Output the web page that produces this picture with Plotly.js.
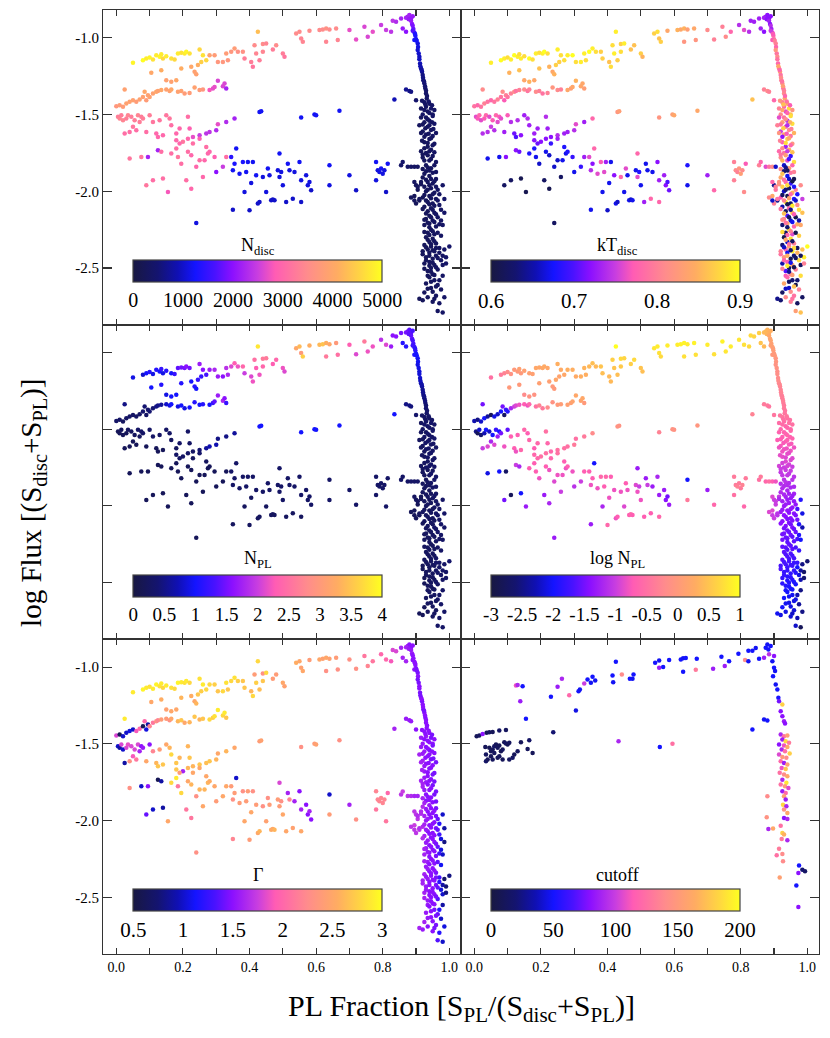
<!DOCTYPE html>
<html><head><meta charset="utf-8">
<script src="https://cdn.plot.ly/plotly-3.0.1.min.js"></script>
<style>html,body{margin:0;padding:0;background:#fff}#chart{width:830px;height:1038px}</style>
</head><body><div id="chart"></div>
<script>
// Row format: [PL fraction, log flux, N_disc, kT_disc, N_PL, log N_PL, Gamma]
const upperYellow = [
[.05,-1.163,4900,.89,.9,-.5,2.9],[.08,-1.146,5000,.90,.8,-.4,2.95],[.09,-1.135,4800,.89,1.0,-.3,2.9],
[.10,-1.128,4900,.88,1.1,-.2,2.85],[.11,-1.141,4700,.89,.9,-.1,2.9],[.12,-1.113,4800,.90,1.1,0,2.95],
[.13,-1.124,4900,.89,1.0,0,2.85],[.135,-1.107,4800,.88,1.2,.1,2.9],[.14,-1.135,4600,.89,.9,0,2.8],
[.15,-1.12,4800,.88,1.1,.1,2.9],[.165,-1.135,4700,.90,1.0,.1,2.85],[.175,-1.141,4600,.88,1.2,.1,2.8],
[.185,-1.102,4800,.89,1.4,.2,2.95],[.195,-1.098,4700,.88,1.5,.2,2.9],[.205,-1.102,4800,.89,1.5,.2,2.85],
[.21,-1.091,4900,.90,1.6,.25,2.9],[.22,-1.102,4700,.88,1.5,.2,2.8],[.25,-1.076,4600,.89,1.7,.3,2.85],
[.26,-1.113,4700,.88,1.6,.25,2.9],[.255,-1.157,4500,.87,1.2,.15,2.75],[.27,-1.146,4600,.88,1.3,.2,2.8]
];
const upperOrange = [
[.105,-1.228,4000,.85,1.0,0,2.5],[.135,-1.211,4100,.86,1.1,0,2.55],[.15,-1.276,3900,.84,.9,-.2,2.45],
[.165,-1.287,3900,.85,1.0,-.1,2.5],[.18,-1.276,4000,.84,1.0,-.1,2.5],[.195,-1.2,4100,.86,1.1,.1,2.6],
[.225,-1.189,4000,.85,1.0,.1,2.55],[.235,-1.222,3900,.84,1.1,0,2.5],[.24,-1.237,3900,.85,1.0,0,2.6],
[.245,-1.178,4100,.87,1.2,.2,2.7],[.28,-1.113,3900,.89,1.7,.3,2.8],[.295,-1.113,3800,.90,1.8,.3,2.75],
[.305,-1.157,3700,.88,1.7,.25,2.7],[.32,-1.157,3700,.89,1.6,.3,2.8],[.33,-1.102,3800,.89,1.9,.35,2.85],
[.335,-1.146,3700,.88,1.8,.3,2.7],[.345,-1.091,3700,.90,2.1,.4,2.8],[.355,-1.07,3800,.89,2.3,.45,2.85],
[.365,-1.091,3600,.88,2.2,.4,2.75],[.38,-1.091,3600,.87,2.4,.5,2.7],[.415,-1.048,3500,.88,2.5,.6,2.4],
[.44,-1.041,3500,.87,2.6,.7,2.3],[.48,-1.048,3500,.86,2.4,.7,2.4],[.425,-.961,4300,.89,3.8,1.0,2.8]
];
const upperSalmon = [
[.385,-1.135,3300,.87,2.0,.45,2.7],[.405,-1.157,3300,.86,2.1,.4,2.6],[.41,-1.189,3200,.88,2.2,.4,2.8],
[.42,-1.102,3400,.89,2.3,.5,2.75],[.43,-1.146,3300,.87,2.2,.45,2.65],[.44,-1.091,3400,.88,2.4,.55,2.7],
[.45,-1.037,3400,.89,2.6,.65,2.8],[.47,-1.076,3300,.86,2.3,.6,2.4],[.50,-1.102,3300,.87,2.2,.5,2.5],
[.505,-1.124,3200,.85,2.1,.45,2.45],[.54,-.972,3500,.87,3.2,.8,2.55],[.55,-.961,3500,.88,3.4,.85,2.5],
[.555,-1.004,3400,.86,3.0,.75,2.45],[.56,-1.026,3400,.87,3.6,.7,2.5],[.58,-.954,3500,.84,3.3,.85,2.4],
[.61,-.95,3500,.85,3.4,.85,2.5],[.62,-.946,3500,.84,3.5,.9,2.45],[.63,-.939,3600,.85,3.3,.9,2.5],
[.64,-.946,3500,.83,3.2,.85,2.45],[.63,-1.026,3400,.82,2.6,.75,2.3],[.66,-.939,3500,.84,3.0,.9,2.4],
[.665,-1.015,3400,.82,2.5,.75,2.3]
];
const nearPeak = [
[.70,-.95,2700,.81,2.3,.85,2.3],[.72,-1.011,2700,.80,2.1,.75,2.3],[.745,-.928,2600,.80,2.6,.9,2.1],
[.755,-.993,2600,.81,2.2,.8,2.2],[.77,-.961,2700,.78,2.2,.85,2.1],[.795,-.917,2500,.74,1.9,.8,2.0],
[.81,-.95,2500,.76,2.1,.75,2.0],[.825,-.961,2400,.74,1.7,.7,1.9],[.83,-.889,2400,.73,1.6,.7,1.8],
[.84,-.896,2300,.73,1.6,.65,1.8],[.855,-.874,2200,.73,1.5,.6,1.6],[.86,-.939,2100,.73,1.1,.5,1.6],
[.87,-.961,2000,.72,1.1,.4,1.6],[.875,-.863,2200,.73,1.5,.4,1.6],[.88,-.852,2200,.72,1.4,.35,1.5],
[.885,-.874,2100,.72,1.4,.3,1.5],[.89,-.859,2100,.72,1.3,.3,1.5],[.87,-.87,2200,.73,1.5,.4,1.6],
[.878,-.88,2100,.72,1.4,.35,1.55]
];
const descending = [
[.885,-.889,2100,.73,1.4,.2,1.55],[.888,-.911,2000,.72,1.4,.15,1.55],[.89,-.922,1900,.74,1.3,.15,1.5],
[.892,-.943,1800,.73,1.3,.1,1.5],[.895,-.965,1500,.76,1.2,.1,1.5],[.89,-.954,1700,.75,1.25,.1,1.5],
[.898,-.987,1300,.78,1.1,.05,1.5],[.90,-1.009,1200,.79,1.0,0,1.45],[.895,-1.015,1250,.77,1.05,0,1.5],
[.905,-1.037,1100,.80,.95,-.05,1.45],[.908,-1.102,1000,.79,.9,-.1,1.45],[.91,-1.124,950,.81,.85,-.15,1.5],
[.912,-1.167,900,.78,.8,-.2,1.45],[.915,-1.2,800,.80,.7,-.25,1.5],[.918,-1.222,700,.83,.6,-.3,1.45],
[.92,-1.243,600,.79,.55,-.3,1.5],[.922,-1.276,550,.80,.5,-.35,1.45],[.925,-1.298,500,.82,.45,-.35,1.5],
[.928,-1.33,450,.78,.4,-.4,1.45],[.93,-1.363,400,.81,.4,-.4,1.5],[.932,-1.396,380,.84,.35,-.45,1.5],
[.897,-.975,1300,.77,1.15,.05,1.5],[.902,-1.02,1200,.80,1.0,0,1.45],[.906,-1.06,1100,.78,.95,-.05,1.5],
[.905,-1.08,1050,.82,.9,-.1,1.45],[.91,-1.14,950,.79,.85,-.15,1.5],[.913,-1.185,850,.84,.75,-.2,1.45],
[.917,-1.21,750,.78,.65,-.25,1.5],[.921,-1.26,600,.81,.55,-.3,1.5],[.924,-1.285,520,.79,.5,-.35,1.45],
[.927,-1.315,480,.83,.45,-.35,1.5],[.93,-1.345,420,.80,.4,-.4,1.5],[.933,-1.38,400,.78,.35,-.45,1.5]
];
const bandUpper = [
[.925,-1.42,400,.80,.35,-.45,1.5],[.94,-1.43,380,.84,.3,-.5,1.5],[.93,-1.45,350,.78,.3,-.55,1.55],
[.945,-1.46,420,.88,.35,-.5,1.45],[.935,-1.48,300,.76,.3,-.6,1.5],[.92,-1.50,380,.81,.3,-.6,1.55],
[.95,-1.50,350,.86,.3,-.55,1.5],[.93,-1.52,330,.79,.25,-.65,1.5],[.94,-1.54,360,.74,.3,-.6,1.45],
[.925,-1.55,300,.83,.3,-.7,1.55],[.955,-1.56,400,.88,.35,-.65,1.5],[.935,-1.58,320,.78,.3,-.7,1.5],
[.945,-1.60,350,.81,.3,-.75,1.45],[.92,-1.61,280,.75,.25,-.75,1.6],[.93,-1.63,330,.84,.3,-.8,1.5],
[.95,-1.64,360,.79,.3,-.8,1.5],[.94,-1.66,300,.87,.3,-.85,1.5],[.925,-1.68,320,.77,.25,-.85,1.55],
[.955,-1.69,350,.82,.3,-.9,1.45],[.935,-1.71,300,.73,.25,-.9,1.5],[.945,-1.73,340,.85,.3,-.95,1.5],
[.93,-1.75,310,.79,.3,-1.0,1.55],[.95,-1.77,330,.69,.25,-1.0,1.45],[.92,-1.78,280,.81,.25,-1.05,1.6],
[.94,-1.80,320,.76,.3,-1.05,1.5],[.96,-1.81,350,.88,.3,-1.1,1.45],[.93,-1.83,300,.66,.25,-1.1,1.5],
[.945,-1.85,320,.83,.3,-1.15,1.5],[.915,-1.74,280,.78,.25,-.95,1.6],[.96,-1.62,360,.85,.3,-.8,1.45],
[.91,-1.57,300,.80,.25,-.7,1.6],[.955,-1.47,380,.82,.3,-.5,1.5],
[.918,-1.41,380,.82,.3,-.45,1.5],[.938,-1.415,400,.79,.3,-.45,1.5],[.928,-1.435,360,.86,.3,-.5,1.5],
[.948,-1.44,390,.77,.3,-.5,1.45],[.915,-1.46,330,.80,.25,-.55,1.55],[.925,-1.47,350,.84,.3,-.55,1.5],
[.94,-1.49,360,.78,.3,-.6,1.5],[.95,-1.51,380,.88,.3,-.6,1.45],[.915,-1.52,300,.76,.25,-.65,1.55],
[.935,-1.53,330,.81,.3,-.65,1.5],[.948,-1.55,350,.85,.3,-.65,1.5],[.92,-1.565,300,.79,.25,-.7,1.55],
[.94,-1.57,340,.74,.3,-.7,1.5],[.928,-1.59,320,.87,.3,-.75,1.5],[.952,-1.595,360,.80,.3,-.75,1.45],
[.915,-1.62,290,.82,.25,-.8,1.6],[.938,-1.625,320,.77,.3,-.8,1.5],[.925,-1.645,310,.72,.25,-.8,1.55],
[.945,-1.655,340,.84,.3,-.85,1.5],[.918,-1.67,290,.80,.25,-.85,1.6],[.935,-1.685,310,.88,.3,-.9,1.5],
[.95,-1.70,350,.78,.3,-.9,1.45],[.925,-1.72,300,.81,.25,-.95,1.55],[.94,-1.74,320,.75,.3,-.95,1.5],
[.955,-1.745,360,.86,.3,-1.0,1.45],[.92,-1.76,280,.79,.25,-1.0,1.6],[.935,-1.765,300,.83,.25,-1.0,1.5],
[.945,-1.79,320,.70,.3,-1.05,1.5],[.925,-1.80,290,.85,.25,-1.05,1.55],[.955,-1.83,340,.78,.3,-1.1,1.45],
[.935,-1.845,300,.64,.25,-1.1,1.5],[.92,-1.855,280,.81,.25,-1.15,1.6]
];
const bandMiddle = [
[.93,-1.87,300,.63,.25,-1.15,1.5],[.95,-1.88,330,.79,.3,-1.2,1.5],[.94,-1.90,310,.67,.25,-1.2,1.55],
[.92,-1.91,280,.84,.25,-1.15,1.65],[.96,-1.92,340,.61,.3,-1.25,1.45],[.935,-1.94,300,.78,.25,-1.25,1.5],
[.95,-1.95,320,.69,.3,-1.3,1.5],[.925,-1.97,290,.87,.25,-1.25,1.6],[.945,-1.98,310,.62,.25,-1.3,1.5],
[.965,-1.99,350,.80,.3,-1.35,1.4],[.93,-2.00,290,.66,.25,-1.3,1.55],[.955,-2.01,320,.85,.3,-1.35,1.5],
[.94,-2.03,300,.61,.25,-1.35,1.5],[.92,-2.04,270,.77,.25,-1.3,1.65],[.96,-2.05,330,.68,.3,-1.4,1.45],
[.935,-2.07,290,.89,.25,-1.4,1.5],[.95,-2.08,310,.63,.25,-1.4,1.5],[.97,-2.09,360,.81,.3,-1.5,1.3],
[.925,-2.10,280,.65,.25,-1.4,1.6],[.945,-2.11,300,.78,.25,-1.45,1.5],[.935,-2.13,290,.62,.25,-1.45,1.55],
[.955,-2.14,320,.86,.3,-1.45,1.5],[.94,-2.16,300,.70,.25,-1.5,1.5],[.965,-2.17,340,.61,.3,-1.55,1.4],
[.93,-2.18,280,.80,.25,-1.5,1.55],[.95,-2.19,310,.66,.25,-1.5,1.5],[.94,-2.21,300,.84,.25,-1.55,1.5],
[.925,-2.22,270,.63,.25,-1.5,1.6],[.96,-2.23,330,.78,.3,-1.6,1.45],[.945,-2.25,300,.89,.25,-1.55,1.5],
[.935,-2.27,290,.62,.25,-1.6,1.55],[.955,-2.28,320,.76,.25,-1.6,1.5],[.975,-2.29,360,.87,.3,-1.8,1.1],
[.98,-1.96,380,.81,.3,-1.9,1.0],[.985,-2.05,400,.75,.3,-2.1,.9],[.975,-2.12,370,.88,.3,-1.9,1.05],
[.905,-1.99,260,.79,.2,-1.0,1.7],[.895,-2.03,250,.84,.2,-.9,1.75],[.91,-2.06,260,.64,.2,-1.1,1.7],
[.90,-2.08,250,.80,.2,-1.0,1.7],[.985,-2.14,400,.86,.3,-2.3,.8],[.97,-2.02,350,.68,.3,-1.7,1.2],
[.915,-1.94,270,.82,.2,-1.05,1.65],
[.94,-1.865,310,.62,.25,-1.15,1.5],[.96,-1.875,340,.80,.3,-1.2,1.45],[.925,-1.885,290,.86,.25,-1.15,1.6],
[.945,-1.92,310,.66,.25,-1.25,1.5],[.93,-1.925,300,.79,.25,-1.2,1.55],[.955,-1.935,330,.61,.3,-1.3,1.5],
[.915,-1.955,270,.82,.2,-1.2,1.65],[.94,-1.96,300,.88,.25,-1.3,1.5],[.96,-1.97,340,.68,.3,-1.35,1.45],
[.935,-1.99,290,.63,.25,-1.3,1.55],[.95,-2.02,310,.78,.25,-1.35,1.5],[.925,-2.025,280,.62,.25,-1.3,1.6],
[.945,-2.045,300,.84,.25,-1.4,1.5],[.965,-2.06,350,.66,.3,-1.45,1.4],[.93,-2.06,290,.80,.25,-1.4,1.55],
[.94,-2.085,300,.61,.25,-1.45,1.5],[.955,-2.095,320,.89,.25,-1.45,1.5],[.92,-2.115,270,.79,.2,-1.4,1.65],
[.95,-2.12,310,.64,.25,-1.5,1.5],[.93,-2.145,290,.86,.25,-1.5,1.55],[.96,-2.15,330,.77,.3,-1.55,1.45],
[.945,-2.17,300,.62,.25,-1.55,1.5],[.925,-2.185,280,.81,.25,-1.5,1.6],[.955,-2.2,320,.67,.25,-1.6,1.5],
[.935,-2.205,290,.79,.25,-1.55,1.55],[.97,-2.215,350,.85,.3,-1.7,1.3],[.94,-2.235,300,.63,.25,-1.6,1.5],
[.95,-2.26,310,.80,.25,-1.6,1.5],[.925,-2.265,280,.88,.25,-1.6,1.6],[.965,-2.27,340,.61,.3,-1.7,1.4],
[.94,-2.285,300,.78,.25,-1.65,1.5],[.975,-2.19,360,.65,.3,-1.9,1.05],[.98,-2.22,370,.84,.3,-2.0,1.0]
];
const bandLower = [
[.93,-2.30,290,.61,.25,-1.6,1.55],[.95,-2.31,310,.88,.25,-1.65,1.5],[.94,-2.33,300,.66,.25,-1.65,1.5],
[.96,-2.34,330,.80,.3,-1.7,1.45],[.925,-2.35,280,.63,.25,-1.6,1.6],[.945,-2.36,300,.84,.25,-1.7,1.5],
[.97,-2.37,350,.62,.3,-1.8,1.3],[.935,-2.38,290,.78,.25,-1.7,1.55],[.955,-2.39,320,.89,.25,-1.75,1.5],
[.985,-2.38,380,.86,.3,-2.5,.7],[.94,-2.40,300,.67,.25,-1.75,1.5],[.92,-2.41,270,.79,.2,-1.65,1.6],
[.96,-2.42,330,.63,.3,-1.8,1.45],[.93,-2.43,290,.82,.25,-1.8,1.55],[.95,-2.44,310,.61,.25,-1.85,1.5],
[.975,-2.45,360,.88,.3,-2.1,1.05],[.94,-2.46,300,.77,.25,-1.85,1.5],[.925,-2.47,280,.65,.2,-1.8,1.6],
[.955,-2.48,320,.84,.25,-1.9,1.5],[.99,-2.43,400,.89,.3,-2.7,.75],[.945,-2.50,300,.62,.25,-1.9,1.5],
[.965,-2.51,340,.80,.3,-2.0,1.35],[.935,-2.52,290,.70,.25,-1.9,1.55],[.95,-2.54,310,.79,.25,-1.95,1.5],
[.97,-2.40,350,.85,.3,-2.0,1.2],[1.0,-2.36,420,.90,.35,-2.6,.8],[.98,-2.48,370,.62,.3,-2.3,1.0],
[.935,-2.315,290,.84,.25,-1.65,1.55],[.955,-2.325,320,.62,.25,-1.7,1.5],[.945,-2.345,300,.79,.25,-1.7,1.5],
[.93,-2.365,290,.66,.25,-1.7,1.55],[.96,-2.37,330,.88,.3,-1.8,1.45],[.95,-2.385,310,.63,.25,-1.75,1.5],
[.92,-2.39,270,.80,.2,-1.7,1.6],[.94,-2.42,300,.85,.25,-1.8,1.5],[.965,-2.435,340,.62,.3,-1.9,1.4],
[.93,-2.45,290,.78,.25,-1.8,1.55],[.95,-2.465,310,.67,.25,-1.85,1.5],[.94,-2.485,300,.89,.25,-1.9,1.5],
[.96,-2.495,330,.61,.3,-1.95,1.45],[.925,-2.505,280,.80,.2,-1.85,1.6],[.945,-2.525,300,.64,.25,-1.95,1.5],
[.955,-2.545,320,.83,.25,-2.0,1.5],[.935,-2.55,290,.77,.25,-1.95,1.55],[.98,-2.42,370,.62,.3,-2.4,.9],
[.99,-2.47,390,.80,.3,-2.6,.8]
];
const bandBottom = [
[.94,-2.56,300,.78,.25,-2.0,1.5],[.955,-2.58,320,.63,.25,-2.05,1.45],[.93,-2.60,290,.84,.25,-2.0,1.55],
[.965,-2.61,340,.61,.3,-2.1,1.4],[.945,-2.63,300,.66,.25,-2.1,1.5],[.975,-2.64,360,.80,.3,-2.4,1.0],
[.925,-2.66,280,.62,.2,-2.0,1.6],[.96,-2.68,330,.79,.25,-2.15,1.45],[.98,-2.55,370,.88,.3,-2.5,.9],
[.91,-2.70,260,.64,.2,-2.05,1.6],[.92,-2.71,270,.63,.2,-2.1,1.55],[.935,-2.69,290,.81,.25,-2.1,1.5],
[.95,-2.72,310,.80,.25,-2.15,1.5],[.97,-2.73,350,.62,.3,-2.3,1.2],[.965,-2.78,340,.83,.3,-2.2,1.35],
[.98,-2.79,370,.86,.3,-2.8,1.0],[.985,-2.69,380,.62,.3,-2.5,1.05],
[.945,-2.59,300,.62,.25,-2.05,1.5],[.96,-2.62,330,.86,.25,-2.1,1.45],[.935,-2.635,290,.66,.25,-2.05,1.55],
[.95,-2.655,310,.81,.25,-2.1,1.5],[.97,-2.58,350,.63,.3,-2.3,1.2],[.955,-2.70,320,.79,.25,-2.2,1.45]
];
const bandSide = [
[.855,-1.83,400,.80,.3,-.5,1.7],[.86,-1.81,420,.78,.3,-.4,1.75],[.875,-1.84,380,.76,.3,-.6,1.7],
[.885,-1.84,360,.79,.3,-.5,1.65],[.895,-1.84,350,.81,.3,-.7,1.6],[.905,-1.84,340,.66,.3,-.8,1.6],
[.9,-1.96,300,.64,.25,-1.0,1.7],[.895,-1.94,310,.78,.25,-.9,1.7],[.905,-1.97,300,.80,.25,-1.0,1.65],
[.885,-2.04,280,.81,.2,-.9,1.7],[.895,-2.06,290,.66,.2,-1.0,1.7],[.91,-2.05,300,.79,.25,-1.1,1.65],
[.87,-1.337,700,.80,.5,-.4,1.55],[.88,-1.346,650,.81,.5,-.4,1.55],[.885,-1.352,600,.80,.45,-.45,1.55],
[.835,-1.402,900,.86,1.0,-.3,1.6],[.90,-1.407,450,.78,.35,-.45,1.5]
];
const leftOrange = [
[0,-1.446,3700,.79,.3,-2.3,1.8],[.01,-1.439,3800,.78,.3,-2.5,.6],[.02,-1.45,3800,.79,.25,-2.2,1.0],
[.025,-1.337,3900,.81,.5,-1.5,2.9],[.03,-1.428,3900,.80,.3,-2.0,1.0],[.04,-1.417,3900,.79,.3,-2.4,1.05],
[.05,-1.407,3900,.78,.3,-2.8,1.0],[.06,-1.417,3800,.79,.3,-2.1,1.9],[.07,-1.402,3900,.80,.3,-2.2,2.0],
[.08,-1.385,3900,.79,.35,-2.0,.6],[.085,-1.352,4000,.81,.4,-1.5,2.0],[.09,-1.407,3800,.77,.3,-2.7,1.05],
[.095,-1.374,3900,.80,.35,-1.8,.9],[.10,-1.385,3900,.79,.4,-1.9,2.2],[.11,-1.363,3900,.80,.4,-1.2,2.1],
[.12,-1.352,4000,.81,.5,-1.0,2.3],[.125,-1.346,3900,.79,.5,-.9,2.2],[.135,-1.341,4000,.80,.6,-.8,2.4],
[.15,-1.337,3900,.81,.8,-.7,2.4],[.16,-1.346,3900,.79,.9,-.8,2.3],[.165,-1.337,4000,.80,1.0,-.6,2.5],
[.185,-1.352,3900,.81,.9,-.5,2.6],[.195,-1.346,3900,.80,1.0,-.3,2.7],[.205,-1.363,3800,.79,.9,-.4,2.5],
[.22,-1.359,3800,.80,1.0,-.2,2.6],[.235,-1.324,3900,.82,1.1,-.1,2.7],[.25,-1.341,3800,.81,1.0,0,2.6],
[.26,-1.337,3700,.80,1.1,.05,2.7],[.28,-1.341,2800,.84,1.0,.1,2.8],[.29,-1.330,2700,.83,1.2,.1,2.75],
[.295,-1.320,2700,.84,1.4,.15,2.85],[.305,-1.280,2600,.85,1.7,.2,2.9],[.32,-1.315,2600,.84,1.8,.15,2.8],
[.325,-1.298,2600,.84,1.6,.2,2.9],[.33,-1.330,2200,.83,1.2,0,2.7]
];
const leftPink = [
[.005,-1.515,3300,.76,.2,-2.5,1.0],[.01,-1.526,3400,.77,.2,-2.8,.9],[.015,-1.504,3300,.78,.25,-2.2,1.8],
[.02,-1.537,3400,.76,.2,-2.6,1.0],[.025,-1.624,3100,.74,.2,-1.0,.9],[.03,-1.526,3300,.77,.2,-2.3,1.8],
[.035,-1.504,3400,.78,.25,-2.0,1.85],[.04,-1.613,3100,.74,.2,-.9,2.3],[.045,-1.515,3300,.76,.25,-2.2,1.8],
[.05,-1.580,3200,.75,.2,-1.2,1.9],[.055,-1.537,3300,.77,.25,-2.0,1.8],[.06,-1.602,3100,.74,.2,-.9,2.1],
[.065,-1.504,3400,.78,.3,-1.8,1.8],[.07,-1.548,3300,.76,.25,-1.3,1.6],[.075,-1.515,3300,.77,.3,-2.0,1.5],
[.08,-1.526,3300,.76,.3,-1.5,1.55],[.09,-1.613,3100,.73,.2,-.8,2.5],[.10,-1.504,3300,.77,.3,-1.6,1.5],
[.11,-1.548,3200,.74,.3,-.7,2.2],[.12,-1.624,3000,.71,.2,-.7,2.6],[.125,-1.646,3000,.70,.2,-.8,2.7],
[.13,-1.537,3200,.74,.3,-.7,2.4],[.14,-1.635,3000,.72,.2,-.6,2.7],[.15,-1.504,3200,.73,.3,-.6,2.5],
[.16,-1.526,3200,.74,.3,-.7,2.6],[.165,-1.570,3100,.73,.25,-.6,2.8],[.18,-1.624,3000,.73,.25,-.7,2.7],
[.19,-1.591,3000,.73,.3,-.6,2.6],[.215,-1.515,3100,.74,.3,-.5,2.6],[.22,-1.591,2900,.73,.3,-.6,2.7],
[.23,-1.646,2700,.72,.3,-.6,2.6],[.25,-1.635,2500,.74,.4,-.5,2.7],[.27,-1.624,2400,.73,.6,-.5,2.65],
[.28,-1.613,2400,.73,.7,-.5,2.7],[.30,-1.602,2300,.74,.7,-.4,2.6],[.305,-1.563,2700,.76,.5,-.5,2.5],
[.33,-1.548,2300,.73,.5,-.4,2.6],[.355,-1.526,2200,.78,.6,-.2,2.5]
];
const middleScatter = [
[.04,-1.787,3200,.67,.2,-2.1,2.3],[.075,-1.776,3200,.67,.2,-2.0,1.0],[.09,-1.961,3200,.62,.2,-1.5,1.4],
[.095,-1.776,2200,.72,.2,-2.7,1.5],[.11,-1.928,3100,.62,.2,-2.8,1.0],[.125,-1.733,2200,.72,.2,-1.0,.6],
[.135,-1.743,3100,.71,.2,-1.2,.9],[.14,-1.917,3100,.61,.2,-2.0,.9],[.155,-2.004,2800,.61,.2,-1.3,2.5],
[.165,-1.754,3100,.68,.2,-.7,2.8],[.18,-1.722,3100,.68,.2,-.7,2.9],[.185,-1.776,3200,.67,.2,-.7,2.1],
[.195,-1.82,3100,.66,.2,-.8,2.8],[.20,-1.678,3200,.72,.3,-.5,1.6],[.21,-1.928,3100,.62,.2,-1.3,2.1],
[.215,-1.743,3100,.67,.2,-.7,2.5],[.225,-1.765,3000,.66,.2,-.8,2.6],[.225,-1.983,3000,.61,.2,-1.2,2.1],
[.23,-1.689,3100,.69,.25,-.6,2.5],[.24,-1.841,3000,.66,.2,-.9,2.3],[.25,-1.798,3100,.66,.2,-.8,2.6],
[.26,-1.907,3000,.62,.2,-1.0,2.5],[.265,-1.798,3000,.67,.2,-.8,2.6],[.27,-1.711,3100,.68,.25,-.7,2.5],
[.275,-1.754,3000,.67,.2,-.8,2.6],[.28,-1.743,3000,.68,.2,-.7,2.55],[.295,-1.776,2900,.69,.2,-.8,2.5],
[.30,-1.874,2000,.67,.2,-1.1,2.4],[.32,-1.841,2500,.69,.2,-1.0,2.5],[.33,-1.776,3100,.73,.2,-.7,2.5],
[.18,-1.667,3000,.72,.3,-.6,2.7],[.19,-1.689,3000,.71,.3,-.6,2.4],[.215,-1.657,3000,.72,.3,-.5,2.6],
[.25,-1.657,2900,.73,.35,-.5,2.5]
];
const blueBranch = [
[.345,-1.776,1400,.76,.3,-.7,2.4],[.35,-1.863,1200,.74,.3,-.8,2.3],[.355,-1.82,1300,.72,.3,-.7,2.4],
[.36,-1.722,1200,.78,.3,-2.0,1.0],[.37,-1.885,1200,.76,.3,-.8,2.4],[.38,-1.809,1300,.77,.3,-.6,2.3],
[.385,-2.004,1100,.67,.25,-1.2,2.5],[.39,-1.874,1200,.76,.3,-.7,2.4],[.395,-1.809,1200,.73,.3,-.6,2.4],
[.405,-1.946,1100,.67,.25,-.8,2.5],[.41,-1.809,1200,.67,.3,-.7,2.3],[.42,-1.896,1200,.72,.3,-.8,2.4],
[.425,-2.08,1000,.67,.25,-.8,2.5],[.43,-2.07,1000,.66,.25,-.7,2.6],[.44,-1.907,1100,.78,.3,-.8,2.3],
[.45,-2.004,1100,.67,.25,-.9,2.45],[.455,-1.852,1200,.76,.3,-.7,2.3],[.46,-1.896,1100,.67,.3,-.8,2.4],
[.465,-2.059,1000,.67,.25,-.7,2.55],[.47,-2.054,1000,.66,.25,-.6,2.5],[.475,-2.059,1000,.67,.25,-.7,2.6],
[.485,-1.863,1100,.67,.3,-.9,2.4],[.49,-1.754,1200,.78,.3,-1.3,1.8],[.49,-1.907,1100,.76,.3,-.8,2.4],
[.495,-1.874,1100,.68,.3,-1.0,2.3],[.50,-1.961,1100,.67,.3,-.8,2.5],[.51,-2.07,1000,.73,.25,-.7,2.5],
[.515,-1.82,1200,.67,.3,-1.3,1.6],[.52,-1.863,1100,.67,.3,-1.0,2.2],[.53,-2.048,1000,.78,.25,-.7,2.45],
[.535,-1.874,1100,.67,.3,-1.3,1.6],[.55,-1.809,1200,.72,.3,-1.2,1.5],[.555,-2.07,1000,.78,.25,-.6,2.5],
[.555,-1.928,1100,.73,.3,-1.3,1.6],[.57,-1.896,1100,.73,.3,-1.3,1.5],[.575,-1.961,1100,.72,.3,-1.4,1.5],
[.58,-1.939,1100,.70,.3,-1.5,1.6],[.585,-1.993,1000,.71,.3,-1.3,1.5],[.64,-1.83,1200,.68,.3,-2.0,1.0],
[.64,-1.961,1100,.67,.3,-.4,2.4],[.70,-1.896,1100,.73,.3,-1.3,1.6],[.72,-1.993,1000,.78,.3,-.6,2.3],
[.78,-1.809,1200,.80,.3,-.4,2.2],[.78,-1.928,1100,.80,.3,-.5,2.1],[.785,-1.863,1100,.81,.3,-.4,2.2],
[.79,-1.874,1100,.80,.3,-.3,2.2],[.795,-1.852,1200,.82,.3,-.4,2.2],[.80,-1.885,1100,.83,.3,-.4,2.2],
[.805,-1.863,1100,.81,.3,-.3,2.2],[.81,-2.004,1000,.81,.3,-.6,2.1],[.815,-1.82,1200,.77,.3,-.4,2.0],
[.35,-2.12,1000,.67,.25,-1.3,2.2],[.40,-2.124,1000,.66,.25,-.6,2.4],[.24,-2.207,1100,.62,.2,-1.3,2.3]
];
const midIsolated = [
[.43,-1.483,1200,.82,1.0,-.1,2.4],[.435,-1.478,1200,.83,1.0,-.1,2.45],[.555,-1.52,1200,.82,1.0,-.3,2.3],
[.595,-1.5,1200,.83,1.0,-.1,2.4],[.60,-1.504,1200,.84,1.0,-.1,2.45],[.67,-1.476,1200,.84,1.0,-.05,2.3]
];

// Cutoff panel (subset of fits): [PL fraction, log flux, cutoff]
const cutoffLeft = [
[.007,-1.45,10],[.015,-1.446,12],[.025,-1.435,80],[.037,-1.428,10],[.045,-1.424,12],[.055,-1.422,10],
[.075,-1.413,15],[.095,-1.409,12],[.033,-1.52,10],[.045,-1.526,8],[.035,-1.57,12],[.05,-1.548,10],
[.055,-1.537,10],[.06,-1.515,15],[.065,-1.504,10],[.07,-1.526,12],[.075,-1.511,10],[.08,-1.548,8],
[.085,-1.537,12],[.09,-1.489,10],[.095,-1.498,15],[.10,-1.504,10],[.105,-1.493,12],[.05,-1.58,10],
[.06,-1.559,12],[.035,-1.613,15],[.04,-1.602,10],[.055,-1.602,12],[.07,-1.591,10],[.075,-1.58,12],
[.085,-1.602,10],[.105,-1.602,12],[.115,-1.591,15],[.12,-1.57,10],[.13,-1.548,12],[.14,-1.489,10],
[.16,-1.533,12],[.165,-1.476,15],[.175,-1.559,10]
];
const cutoffUpper = [
[.125,-1.12,110],[.13,-1.117,90],[.145,-1.124,50],[.138,-1.222,85],[.155,-1.337,50],[.23,-1.193,50],
[.237,-1.424,20],[.25,-1.128,85],[.263,-1.076,90],[.285,-1.183,120],[.305,-1.283,45],[.313,-1.157,50],
[.317,-1.146,48],[.33,-1.107,100],[.34,-1.08,50],[.35,-1.102,48],[.355,-1.063,50],[.363,-1.087,48],
[.415,-1.054,50],[.417,-1.098,48],[.425,-.965,50],[.443,-1.048,140],[.467,-1.076,50],[.475,-1.076,48],
[.478,-1.048,50],[.433,-1.483,90],[.543,-.972,50],[.555,-.957,48],[.555,-1.004,85],[.567,-1.0,50],
[.585,-.954,50],[.557,-1.52,50],[.595,-1.5,125],[.62,-.95,50],[.627,-.943,48],[.635,-.941,50],
[.627,-1.03,50],[.665,-1.017,130],[.668,-.946,50],[.717,-1.011,85],[.742,-.933,50],[.752,-.993,85],
[.765,-.961,50],[.793,-.913,50],[.813,-.954,140],[.823,-.893,50],[.823,-.961,48],[.835,-.893,50],
[.845,-.876,48],[.855,-.946,50],[.87,-.939,85],[.875,-.874,50],[.88,-.852,48],[.883,-.885,50],
[.885,-.917,95],[.89,-.863,50],[.895,-.961,48],[.9,-.928,80],[.835,-1.407,50],[.87,-1.341,48],
[.88,-1.348,50]
];
const cutoffBand = [
[.90,-1.004,50],[.903,-1.026,48],[.897,-1.059,50],[.905,-1.113,48],[.91,-1.146,50],[.913,-1.2,52],
[.915,-1.222,75],[.925,-1.243,180],[.92,-1.287,80],[.925,-1.32,80],[.93,-1.352,85],[.933,-1.367,80],
[.92,-1.439,90],[.93,-1.45,125],[.94,-1.446,155],[.925,-1.472,85],[.935,-1.483,185],[.945,-1.493,130],
[.915,-1.504,80],[.93,-1.511,110],[.94,-1.52,160],[.947,-1.563,180],[.923,-1.537,90],[.933,-1.548,125],
[.915,-1.57,105],[.925,-1.585,150],[.937,-1.591,140],[.92,-1.613,120],[.93,-1.624,85],[.94,-1.635,155],
[.923,-1.657,110],[.935,-1.663,175],[.917,-1.689,125],[.93,-1.7,140],[.94,-1.711,160],[.925,-1.733,90],
[.937,-1.754,190],[.92,-1.765,125],[.933,-1.776,150],[.943,-1.787,105],[.925,-1.809,85],[.935,-1.82,120],
[.93,-1.841,155],[.88,-1.841,140],[.935,-1.863,85],[.927,-1.896,185],[.937,-1.907,90],[.93,-1.928,145],
[.94,-1.95,160],[.93,-1.983,80],[.94,-1.989,90],[.878,-1.978,145],[.883,-2.054,90],[.897,-2.052,160],
[.92,-2.033,125],[.925,-2.08,180],[.93,-2.091,165],[.94,-2.128,90],[.923,-2.12,130],[.915,-2.183,130],
[.908,-2.226,125],[.925,-2.217,140],[.927,-2.265,140],[.917,-2.37,155],[.975,-2.293,50],[.985,-2.32,20],
[.993,-2.33,15],[.973,-2.341,80],[.967,-2.422,50],[.973,-2.563,80]
];

// Tick labels
const xTickVals = [0,.2,.4,.6,.8,1.0];
const xTickText = ['0.0','0.2','0.4','0.6','0.8','1.0'];
const yTickVals = [-1.0,-1.5,-2.0,-2.5];
const yTickText = ['-1.0','-1.5','-2.0','-2.5'];
const nDiscTicks = [0,1000,2000,3000,4000,5000];
const kTTicks = [0.6,0.7,0.8,0.9];
const kTTickText = ['0.6','0.7','0.8','0.9'];
const nPLTicks = [0,.5,1,1.5,2,2.5,3,3.5,4];
const logNPLTicks = [-3,-2.5,-2,-1.5,-1,-.5,0,.5,1];
const gammaTicks = [.5,1,1.5,2,2.5,3];
const cutoffTicks = [0,50,100,150,200];

const scale = [
 [0,'#181842'],[0.1,'#141470'],[0.18,'#1010b4'],[0.25,'#1414ff'],[0.33,'#4a12ff'],
 [0.4,'#8c10ff'],[0.5,'#c83ee0'],[0.57,'#ff5cb4'],[0.7,'#ff8c8c'],[0.82,'#ffac62'],
 [0.92,'#ffd840'],[1,'#ffff20']
];

const allRows = [].concat(upperYellow, upperOrange, upperSalmon, nearPeak, descending,
  bandUpper, bandMiddle, bandLower, bandBottom, bandSide, leftOrange, leftPink,
  middleScatter, blueBranch, midIsolated);
const cutRows = [].concat(cutoffLeft, cutoffUpper, cutoffBand);
const col = (rows, i) => rows.map(r => r[i]);

const serif = '"Liberation Serif", "Times New Roman", Times, serif';
const cbY = [0.7352, 0.4015, 0.0685];
const panels = [
 {rows:allRows, c:2, cmin:0, cmax:5000, tv:nDiscTicks, tt:nDiscTicks.map(String), fs:20, title:'N<sub>disc</sub>'},
 {rows:allRows, c:3, cmin:0.6, cmax:0.9, tv:kTTicks, tt:kTTickText, fs:21, title:'kT<sub>disc</sub>'},
 {rows:allRows, c:4, cmin:0, cmax:4, tv:nPLTicks, tt:nPLTicks.map(String), fs:19, title:'N<sub>PL</sub>'},
 {rows:allRows, c:5, cmin:-3, cmax:1, tv:logNPLTicks, tt:logNPLTicks.map(String), fs:19, title:'log N<sub>PL</sub>'},
 {rows:allRows, c:6, cmin:0.5, cmax:3, tv:gammaTicks, tt:gammaTicks.map(String), fs:21, title:'Γ'},
 {rows:cutRows, c:2, cmin:0, cmax:200, tv:cutoffTicks, tt:cutoffTicks.map(String), fs:21, title:'cutoff'}
];

const traces = [];
const annotations = [];
const layout = {
  width:830, height:1038, showlegend:false,
  paper_bgcolor:'#fff', plot_bgcolor:'#fff',
  margin:{l:103, r:11, t:10, b:84},
  font:{family:serif, color:'#000'},
  annotations: annotations
};
panels.forEach((p, k) => {
  const row = Math.floor(k/2), colIdx = k % 2;
  const sfx = k === 0 ? '' : String(k+1);
  const cbX = colIdx === 0 ? 0.0423 : 0.5419;
  traces.push({
    type:'scatter', mode:'markers', xaxis:'x'+sfx, yaxis:'y'+sfx,
    x: col(p.rows,0), y: col(p.rows,1),
    marker:{size:4.5, color: col(p.rows,p.c), colorscale: scale, cmin:p.cmin, cmax:p.cmax,
      line:{width:0},
      showscale:true,
      colorbar:{orientation:'h', x:cbX, xanchor:'left', y:cbY[row], yanchor:'top',
        len:0.348, lenmode:'fraction', thickness:22, thicknessmode:'pixels',
        xpad:0, ypad:0, outlinewidth:1.2, outlinecolor:'#444', ticks:'',
        tickmode:'array', tickvals:p.tv, ticktext:p.tt,
        tickfont:{family:serif, size:p.fs, color:'#000'}, title:{text:''}}
    },
    hoverinfo:'skip'
  });
  layout['xaxis'+sfx] = {
    domain: colIdx === 0 ? [0,0.5] : [0.5,1], anchor:'y'+sfx,
    range:[-0.040,1.035], tickmode:'array', tickvals:xTickVals, ticktext:xTickText,
    showticklabels: row === 2, ticks:'inside', ticklen:6, tickwidth:1.1, tickcolor:'#333',
    minor:{tickmode:'linear', tick0:0, dtick:0.1, ticks:'inside', ticklen:6, tickwidth:1.1, tickcolor:'#333', showgrid:false},
    showline:true, linecolor:'#333', linewidth:1, mirror:'allticks',
    showgrid:false, zeroline:false, tickfont:{family:serif, size:14, color:'#000'}
  };
  layout['yaxis'+sfx] = {
    domain: [1-(row+1)/3, 1-row/3], anchor:'x'+sfx,
    range:[-2.869,-0.819], tickmode:'array', tickvals:yTickVals, ticktext:yTickText,
    showticklabels: colIdx === 0 && row !== 1, ticks:'inside', ticklen:9, tickwidth:1.1, tickcolor:'#333',
    showline:true, linecolor:'#333', linewidth:1, mirror:'allticks',
    showgrid:false, zeroline:false, tickfont:{family:serif, size:15, color:'#000'}
  };
  annotations.push({xref:'paper', yref:'paper', x: colIdx === 0 ? 0.2165 : 0.7179,
    y:[0.75,0.4184,0.0832][row], xanchor:'center', yanchor:'middle', showarrow:false,
    text:p.title, font:{family:serif, size:18, color:'#000'}});
});
annotations.push({xref:'paper', yref:'paper', x:0.5, y:-0.0572, xanchor:'center', yanchor:'middle',
  showarrow:false, text:'PL Fraction [S<sub>PL</sub>/(S<sub>disc</sub>+S<sub>PL</sub>)]',
  font:{family:serif, size:30, color:'#000'}});
annotations.push({xref:'paper', yref:'paper', x:-0.0978, y:0.4778, xanchor:'center', yanchor:'middle',
  showarrow:false, textangle:-90, text:'log Flux [(S<sub>disc</sub>+S<sub>PL</sub>)]',
  font:{family:serif, size:29, color:'#000'}});

Plotly.newPlot('chart', traces, layout, {displayModeBar:false, staticPlot:true});
</script>
</body></html>
